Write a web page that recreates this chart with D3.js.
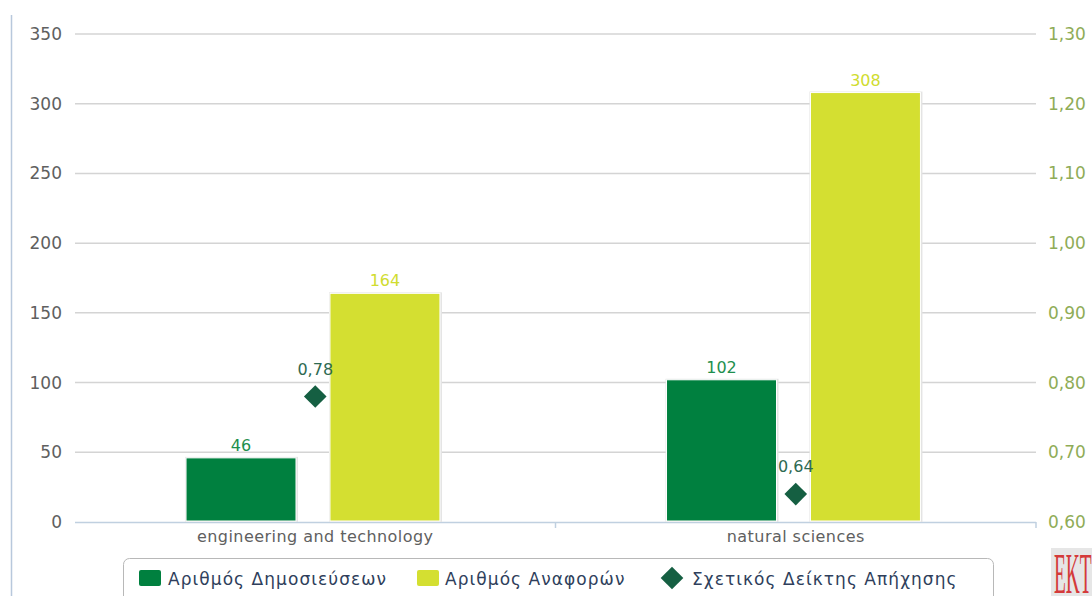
<!DOCTYPE html>
<html lang='el'>
<head>
  <meta charset='UTF-8'>
  <title>Chart</title>
  <style>
    body { margin: 0; background: #fff; }
    svg { display: block; font-family: 'DejaVu Sans', Verdana, sans-serif; }
  </style>
</head>
<body>
<div id='chart'></div>
<script src='https://d3js.org/d3.v7.min.js'></script>
<script>
  // data
  var categories = ['engineering and technology', 'natural sciences']
  var publications = [46, 102]
  var citations = [164, 308]
  var impact = [0.78, 0.64]
  var leftTicks = [0, 50, 100, 150, 200, 250, 300, 350]
  var rightTicks = [0.6, 0.7, 0.8, 0.9, 1.0, 1.1, 1.2, 1.3]
  var seriesNames = ['Αριθμός Δημοσιεύσεων', 'Αριθμός Αναφορών', 'Σχετικός Δείκτης Απήχησης']

  var W = 1092, H = 596
  var plot = {left: 75, right: 1036, top: 34, bottom: 522}
  var colors = {pub: '#00803f', cit: '#d4df31', imp: '#155f42'}

  var svg = d3.select('#chart').append('svg').attr('width', W).attr('height', H)

  var fmt = function (v) { return d3.format('.2f')(v).replace('.', ',') }

  var x = d3.scaleBand().domain(categories).range([plot.left, plot.right])
  var xs = d3.scaleBand().domain(['pub', 'cit']).range([0, x.bandwidth()])
    .paddingInner(0.236).paddingOuter(0.787).align(0.49)
  var yL = d3.scaleLinear().domain([0, 350]).range([plot.bottom, plot.top])
  var yR = d3.scaleLinear().domain([0.6, 1.3]).range([plot.bottom, plot.top])

  // left frame line
  svg.append('line').attr('x1', 11.5).attr('x2', 11.5).attr('y1', 15).attr('y2', H)
    .attr('stroke', '#b8c8dc').attr('stroke-width', 1.5)

  // grid
  svg.append('g').selectAll('line').data(leftTicks.slice(1)).join('line')
    .attr('x1', plot.left).attr('x2', plot.right)
    .attr('y1', function (d) { return yL(d) }).attr('y2', function (d) { return yL(d) })
    .attr('stroke', '#d4d4d4').attr('stroke-width', 1.5)

  // left axis labels
  svg.append('g').selectAll('text').data(leftTicks).join('text')
    .attr('x', 62).attr('y', function (d) { return yL(d) + 6 })
    .attr('text-anchor', 'end').attr('font-size', 17).attr('fill', '#606060')
    .text(function (d) { return d })

  // right axis labels
  svg.append('g').selectAll('text').data(rightTicks).join('text')
    .attr('x', 1048).attr('y', function (d) { return yR(d) + 6 })
    .attr('font-size', 17).attr('fill', '#8fac57')
    .text(function (d) { return fmt(d) })

  // x axis
  svg.append('line').attr('x1', plot.left).attr('x2', plot.right)
    .attr('y1', plot.bottom + 0.5).attr('y2', plot.bottom + 0.5)
    .attr('stroke', '#c0d0e0').attr('stroke-width', 1.5)
  var tickX = [x(categories[1]), plot.right]
  svg.append('g').selectAll('line').data(tickX).join('line')
    .attr('x1', function (d) { return d }).attr('x2', function (d) { return d })
    .attr('y1', plot.bottom).attr('y2', plot.bottom + 6)
    .attr('stroke', '#c0d0e0').attr('stroke-width', 1.5)
  svg.append('g').selectAll('text').data(categories).join('text')
    .attr('x', function (d) { return x(d) + x.bandwidth() / 2 }).attr('y', plot.bottom + 20)
    .attr('text-anchor', 'middle').attr('font-size', 16).attr('letter-spacing', 0.45)
    .attr('fill', '#606060')
    .text(function (d) { return d })

  // bars
  var barData = []
  categories.forEach(function (c, i) {
    barData.push({cat: c, key: 'pub', v: publications[i], color: colors.pub, label: '#1e8f4e'})
    barData.push({cat: c, key: 'cit', v: citations[i], color: colors.cit, label: '#d0dc30'})
  })
  var bars = svg.append('g')
  // soft shadow
  bars.selectAll('rect.sh').data(barData).join('rect').attr('class', 'sh')
    .attr('x', function (d) { return x(d.cat) + xs(d.key) - 1 })
    .attr('y', function (d) { return yL(d.v) - 1 })
    .attr('width', xs.bandwidth() + 3)
    .attr('height', function (d) { return plot.bottom - yL(d.v) + 1 })
    .attr('fill', '#e4e4e4')
  bars.selectAll('rect.bar').data(barData).join('rect').attr('class', 'bar')
    .attr('x', function (d) { return x(d.cat) + xs(d.key) })
    .attr('y', function (d) { return yL(d.v) })
    .attr('width', xs.bandwidth())
    .attr('height', function (d) { return plot.bottom - yL(d.v) - 1 })
    .attr('fill', function (d) { return d.color })
    .attr('stroke', '#fff').attr('stroke-width', 1)
  bars.selectAll('text').data(barData).join('text')
    .attr('x', function (d) { return x(d.cat) + xs(d.key) + xs.bandwidth() / 2 })
    .attr('y', function (d) { return yL(d.v) - 7 })
    .attr('text-anchor', 'middle').attr('font-size', 16)
    .attr('fill', function (d) { return d.label })
    .text(function (d) { return d.v })

  // impact diamonds
  var diamond = d3.symbol().type(d3.symbolSquare).size(256)
  var imp = svg.append('g')
  imp.selectAll('path').data(categories).join('path')
    .attr('d', diamond)
    .attr('transform', function (d, i) {
      return 'translate(' + (x(d) + x.bandwidth() / 2) + ',' + yR(impact[i]) + ') rotate(45)'
    })
    .attr('fill', colors.imp)
  imp.selectAll('text').data(categories).join('text')
    .attr('x', function (d) { return x(d) + x.bandwidth() / 2 })
    .attr('y', function (d, i) { return yR(impact[i]) - 22 })
    .attr('text-anchor', 'middle').attr('font-size', 16).attr('fill', '#2e6a52')
    .text(function (d, i) { return fmt(impact[i]) })

  // legend
  var lg = svg.append('g')
  lg.append('rect').attr('x', 123.5).attr('y', 558.5).attr('width', 870).attr('height', 50)
    .attr('rx', 6).attr('fill', '#fff').attr('stroke', '#b8b8b8').attr('stroke-width', 1)
  var legendItems = [
    {name: seriesNames[0], color: colors.pub, sym: 'rect', sx: 139, tx: 168},
    {name: seriesNames[1], color: colors.cit, sym: 'rect', sx: 417, tx: 445},
    {name: seriesNames[2], color: colors.imp, sym: 'diamond', sx: 661, tx: 692}
  ]
  legendItems.forEach(function (d) {
    if (d.sym === 'rect') {
      lg.append('rect').attr('x', d.sx).attr('y', 570).attr('width', 22).attr('height', 16)
        .attr('rx', 2).attr('fill', d.color)
    } else {
      lg.append('path').attr('d', diamond)
        .attr('transform', 'translate(' + (d.sx + 11) + ',578) rotate(45)')
        .attr('fill', d.color)
    }
    lg.append('text').attr('x', d.tx).attr('y', 585).attr('font-size', 17)
      .attr('letter-spacing', 1.05).attr('fill', '#2f3f5c').text(d.name)
  })

  // EKT mark
  var logo = svg.append('g')
  logo.append('rect').attr('x', 1051).attr('y', 548).attr('width', 45).attr('height', 48)
    .attr('fill', '#e6e6e6')
  logo.append('text').attr('transform', 'translate(1054,593) scale(0.44,1.28)')
    .attr('font-family', "'Liberation Serif', serif").attr('font-size', 44)
    .attr('fill', '#d43a3a').text('EKT')
</script>
</body>
</html>
